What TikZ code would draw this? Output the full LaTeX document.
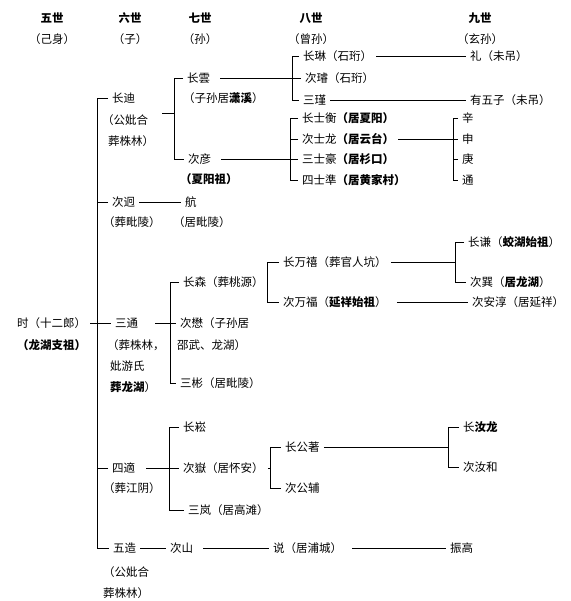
\documentclass[tikz,border=0pt]{standalone}
\usepackage{fontspec}
\newfontfamily\cjk{Noto Sans CJK SC}
\usetikzlibrary{calc}
\tikzset{
  gen/.style={font=\cjk\bfseries\fontsize{11.5}{13}\selectfont,inner sep=0pt},  % heading
  rel/.style={font=\cjk\fontsize{11.5}{13}\selectfont,inner sep=0pt},           % kinship
  who/.style={font=\cjk\fontsize{11.5}{13}\selectfont,anchor=west,
              inner xsep=4pt,inner ysep=0pt,xshift=-4pt},                       % person
  tie/.style={draw=black,line width=0.75pt},
}

\begin{document}
\begin{tikzpicture}[x=1pt,y=-1pt]
  \useasboundingbox (0,0) rectangle (570,601);
  % headings
  \node[gen] (g5) at (52,18) {五世};   \node[rel] (r5) at (52,39) {（己身）};
  \node[gen] (g6) at (130,18) {六世};  \node[rel] (r6) at (130,39) {（子）};
  \node[gen] (g7) at (200,18) {七世};  \node[rel] (r7) at (200,39) {（孙）};
  \node[gen] (g8) at (311,18) {八世};  \node[rel] (r8) at (311,39) {（曾孙）};
  \node[gen] (g9) at (480,18) {九世};  \node[rel] (r9) at (480,39) {（玄孙）};

  % fifth generation
  \node[who] (shi) at (17,323) {时（十二郎）};
  \node[who] (shia) at (17,345) {\bfseries（龙湖支祖）};

  % sixth generation
  \node[who] (changdi) at (112,98) {长迪};
  \node[who] (changdia) at (102,120) {（公妣合};
  \node[who] (changdib) at (108,141) {葬株林）};
  \node[who] (cijiong) at (112,202) {次迥};
  \node[who] (cijionga) at (103,222) {（葬毗陵）};
  \node[who] (santong) at (115,323) {三通};
  \node[who] (santonga) at (107,345) {（葬株林，};
  \node[who] (santongb) at (110,366) {妣游氏};
  \node[who] (santongc) at (110,387) {\textbf{葬龙湖}）};
  \node[who] (sidi) at (112,468) {四適};
  \node[who] (sidia) at (103,488) {（葬江阴）};
  \node[who] (wuzao) at (113,548) {五造};
  \node[who] (wuzaoa) at (103,572) {（公妣合};
  \node[who] (wuzaob) at (103,593) {葬株林）};

  % seventh generation
  \node[who] (changyun) at (187,78) {长雲};
  \node[who] (changyuna) at (183,98) {（子孙居\textbf{潇溪}）};
  \node[who] (ciyan) at (188,159) {次彦};
  \node[who] (ciyana) at (180,179) {\bfseries（夏阳祖）};
  \node[who] (hang) at (185,202) {航};
  \node[who] (hanga) at (173,222) {（居毗陵）};
  \node[who] (changsen) at (183,282) {长森（葬桃源）};
  \node[who] (cimao) at (180,323) {次懋（子孙居};
  \node[who] (cimaoa) at (177,345) {邵武、龙湖）};
  \node[who] (sanbin) at (180,383) {三彬（居毗陵）};
  \node[who] (changsong) at (183,427) {长崧};
  \node[who] (ciyue) at (183,468) {次嶽（居怀安）};
  \node[who] (sanlan) at (188,510) {三岚（居高滩）};
  \node[who] (cishan) at (170,548) {次山};

  % eighth generation
  \node[who] (changlin) at (303,56) {长琳（石珩）};
  \node[who] (cixuan) at (305,78) {次璿（石珩）};
  \node[who] (sanjin) at (303,100) {三瑾};
  \node[who] (shiheng) at (302,118) {长士衡\textbf{（居夏阳）}};
  \node[who] (shilong) at (302,139) {次士龙\textbf{（居云台）}};
  \node[who] (shihao) at (302,159) {三士豪\textbf{（居杉口）}};
  \node[who] (shizhun) at (302,180) {四士準\textbf{（居黄家村）}};
  \node[who] (wanxi) at (283,262) {长万禧（葬官人坑）};
  \node[who] (wanfu) at (283,302) {次万福（\textbf{延祥始祖}）};
  \node[who] (gongzhu) at (285,447) {长公著};
  \node[who] (gongfu) at (285,488) {次公辅};
  \node[who] (shuo) at (273,548) {说（居浦城）};

  % ninth generation
  \node[who] (li) at (470,56) {礼（未吊）};
  \node[who] (youwuzi) at (470,100) {有五子（未吊）};
  \node[who] (xin) at (462,118) {辛};
  \node[who] (shen) at (462,139) {申};
  \node[who] (geng) at (462,159) {庚};
  \node[who] (tong) at (462,180) {通};
  \node[who] (changqian) at (468,242) {长谦（\textbf{蛟湖始祖}）};
  \node[who] (cixun) at (470,282) {次巽（\textbf{居龙湖}）};
  \node[who] (anchun) at (472,302) {次安淳（居延祥）};
  \node[who] (rulong) at (463,427) {长\textbf{汝龙}};
  \node[who] (ruhe) at (463,467) {次汝和};
  \node[who] (zhengao) at (450,548) {振高};

  % spines of the brackets
  \coordinate (s6) at (97,0);
  \coordinate (s7a) at (174,0);  \coordinate (s7b) at (170,0);  \coordinate (s7c) at (169,0);
  \coordinate (s8a) at (292,0);  \coordinate (s8b) at (290,0);
  \coordinate (s8c) at (267,0);  \coordinate (s8d) at (270,0);
  \coordinate (s9a) at (453,0);  \coordinate (s9b) at (455,0);  \coordinate (s9c) at (448,0);
  \coordinate (diroot) at (162,113);

  % 时
  \draw[tie] (shi.east) -- (santong.west);
  \draw[tie] (changdi.west) -- (changdi.west -| s6) -- (wuzao.west -| s6) -- (wuzao.west);
  \foreach \n in {cijiong,sidi} \draw[tie] (\n.west) -- (\n.west -| s6);

  % 长迪
  \draw[tie] (diroot) -- (diroot -| s7a);
  \draw[tie] (changyun.west) -- (changyun.west -| s7a) -- (ciyan.west -| s7a) -- (ciyan.west);
  \draw[tie] ([xshift=6pt]changyun.east) -- (cixuan.west);
  \draw[tie] (changlin.west) -- (changlin.west -| s8a) -- (sanjin.west -| s8a) -- (sanjin.west);
  \draw[tie] (changlin.east) -- (li.west);
  \draw[tie] (sanjin.east) -- (youwuzi.west);
  \draw[tie] ([xshift=6pt]ciyan.east) -- (shihao.west);
  \draw[tie] (shiheng.west) -- (shiheng.west -| s8b) -- (shizhun.west -| s8b) -- (shizhun.west);
  \draw[tie] (shilong.west) -- (shilong.west -| s8b);
  \draw[tie] (shilong.east) -- (shen.west);
  \draw[tie] (xin.west) -- (xin.west -| s9a) -- (tong.west -| s9a) -- (tong.west);
  \draw[tie] (geng.west) -- (geng.west -| s9a);

  % 次迥
  \draw[tie] (cijiong.east) -- (hang.west);

  % 三通
  \draw[tie] ([xshift=13pt]santong.east) -- (cimao.west);
  \draw[tie] (changsen.west) -- (changsen.west -| s7b) -- (sanbin.west -| s7b) -- (sanbin.west);
  \draw[tie] (changsen.east) -- (changsen.east -| s8c);
  \draw[tie] (wanxi.west) -- (wanxi.west -| s8c) -- (wanfu.west -| s8c) -- (wanfu.west);
  \draw[tie] (wanxi.east) -- (wanxi.east -| s9b);
  \draw[tie] (changqian.west) -- (changqian.west -| s9b) -- (cixun.west -| s9b) -- (cixun.west);
  \draw[tie] ([xshift=6pt]wanfu.east) -- (anchun.west);

  % 四適
  \draw[tie] ([xshift=7pt]sidi.east) -- (ciyue.west);
  \draw[tie] (changsong.west) -- (changsong.west -| s7c) -- (sanlan.west -| s7c) -- (sanlan.west);
  \draw[tie] (ciyue.east) -- (ciyue.east -| s8d);
  \draw[tie] (gongzhu.west) -- (gongzhu.west -| s8d) -- (gongfu.west -| s8d) -- (gongfu.west);
  \draw[tie] (gongzhu.east) -- (gongzhu.east -| s9c);
  \draw[tie] (rulong.west) -- (rulong.west -| s9c) -- (ruhe.west -| s9c) -- (ruhe.west);

  % 五造
  \draw[tie] (wuzao.east) -- (cishan.west);
  \draw[tie] ([xshift=6pt]cishan.east) -- (shuo.west);
  \draw[tie] ([xshift=6pt]shuo.east) -- (zhengao.west);
\end{tikzpicture}
\end{document}
